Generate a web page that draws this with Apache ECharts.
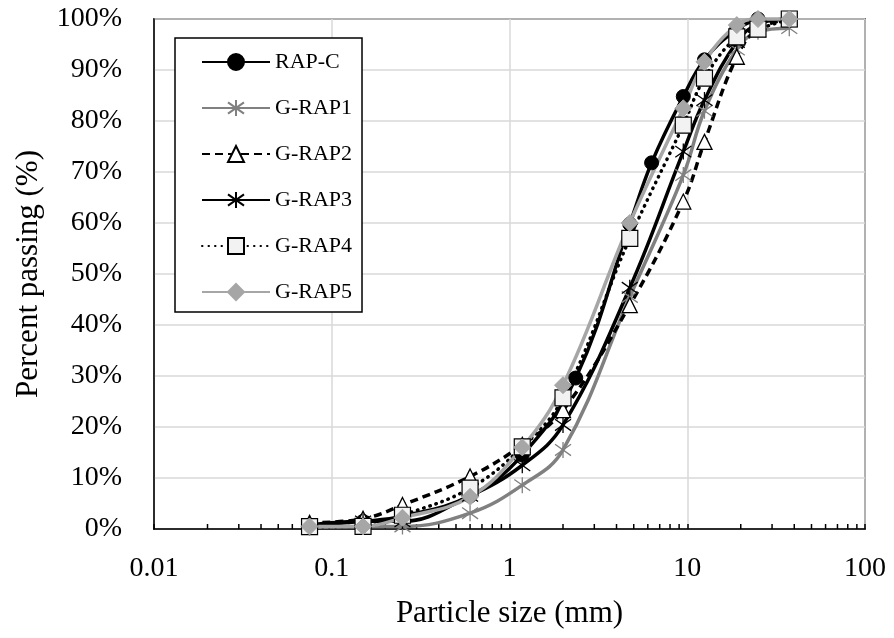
<!DOCTYPE html>
<html>
<head>
<meta charset="utf-8">
<script src="https://cdn.jsdelivr.net/npm/echarts@6/dist/echarts.min.js"></script>
<style>
html,body{margin:0;padding:0;background:#fff;}
#chart{width:894px;height:638px;}
</style>
</head>
<body>
<div id="chart"></div>
<script>
// Sieve sizes (mm)
const sizesRAPC = [0.075, 0.15, 0.25, 0.6, 1.18, 2.36, 4.75, 6.3, 9.5, 12.5, 19, 25];
const sizesGRAP = [0.075, 0.15, 0.25, 0.6, 1.18, 2.0, 4.75, 9.5, 12.5, 19, 25, 37.5];

// Percent passing (%)
const rapC  = [0.7, 1.5, 2.5, 6.5, 14.5, 29.6, 59.8, 71.8, 84.8, 92.0, 98.0, 100];
const gRap1 = [0.3, 0.5, 0.5, 3.1, 8.6, 15.5, 45.5, 69.4, 82.0, 94.0, 97.5, 98.2];
const gRap2 = [1.2, 2.0, 4.7, 10.3, 16.5, 23.3, 43.9, 64.2, 75.9, 92.6, 98.0, 100];
const gRap3 = [0.8, 1.5, 1.5, 6.5, 12.5, 20.4, 47.3, 74.0, 84.1, 95.5, 99.0, 100];
const gRap4 = [0.45, 0.5, 2.7, 8.0, 16.1, 25.7, 57.0, 79.2, 88.4, 96.5, 98.0, 100];
const gRap5 = [0.5, 0.5, 2.2, 6.3, 16.0, 28.2, 60.0, 82.5, 91.6, 98.8, 100, 100];

const seriesNames = ['RAP-C', 'G-RAP1', 'G-RAP2', 'G-RAP3', 'G-RAP4', 'G-RAP5'];
const yTickLabels = ['0%','10%','20%','30%','40%','50%','60%','70%','80%','90%','100%'];
const xTickValues = [0.01, 0.1, 1, 10, 100];
const minorTickValues = [0.02,0.03,0.04,0.05,0.06,0.07,0.08,0.09,
  0.2,0.3,0.4,0.5,0.6,0.7,0.8,0.9, 2,3,4,5,6,7,8,9, 20,30,40,50,60,70,80,90];

function pairs(xs, ys) { return xs.map((x, i) => [x, ys[i]]); }

const FONT = 'Liberation Serif';
const STAR = 'path://M0,-10L0,10M-7.07,-7.07L7.07,7.07M-7.07,7.07L7.07,-7.07';

const chart = echarts.init(document.getElementById('chart'), null, {renderer: 'canvas'});

const common = {type: 'line', smooth: 0.4, clip: false, showAllSymbol: true};

const option = {
  backgroundColor: '#fff',
  animation: false,
  textStyle: {fontFamily: FONT, color: '#000'},
  grid: {left: 154, top: 19, right: 29, bottom: 109, show: true, borderColor: '#000', borderWidth: 1.5, backgroundColor: 'transparent'},
  legend: {
    data: seriesNames,
    orient: 'vertical',
    left: 175, top: 38,
    padding: [13, 10, 9, 26],
    itemWidth: 68, itemHeight: 20, itemGap: 24,
    borderColor: '#000', borderWidth: 1.5,
    backgroundColor: '#fff',
    textStyle: {fontFamily: FONT, fontSize: 22, color: '#000'}
  },
  xAxis: {
    type: 'log', logBase: 10, min: 0.01, max: 100,
    name: 'Particle size (mm)', nameLocation: 'middle', nameGap: 69,
    nameTextStyle: {fontFamily: FONT, fontSize: 31, color: '#000'},
    axisLine: {show: true, lineStyle: {color: '#000', width: 1.5}},
    axisTick: {show: true, inside: true, length: 5, lineStyle: {color: '#000', width: 1.5}},
    axisLabel: {fontFamily: FONT, fontSize: 28, color: '#000', margin: 26,
      formatter: v => { const f = xTickValues.find(t => Math.abs(t - v) / t < 1e-6); return f !== undefined ? String(f) : ''; }},
    splitLine: {show: true, lineStyle: {color: '#d9d9d9', width: 1.5}}
  },
  yAxis: {
    type: 'value', min: 0, max: 100, interval: 10,
    name: 'Percent passing (%)', nameLocation: 'middle', nameGap: 110,
    nameTextStyle: {fontFamily: FONT, fontSize: 31, color: '#000'},
    axisLine: {show: true, lineStyle: {color: '#000', width: 1.5}},
    axisTick: {show: false},
    axisLabel: {fontFamily: FONT, fontSize: 28, color: '#000', margin: 32,
      formatter: v => yTickLabels[Math.round(v / 10)]},
    splitLine: {show: true, lineStyle: {color: '#d9d9d9', width: 1.5}}
  },
  series: [
    {
      type: 'custom', name: 'minorTicks', silent: true, z: 1,
      data: minorTickValues.map(v => [v, 0]),
      encode: {x: 0, y: 1},
      renderItem: (params, api) => {
        const p = api.coord([api.value(0), 0]);
        return {type: 'line', shape: {x1: p[0], y1: p[1], x2: p[0], y2: p[1] - 5},
          style: {stroke: '#000', lineWidth: 1.5}};
      }
    },
    Object.assign({}, common, {
      name: 'RAP-C', data: pairs(sizesRAPC, rapC), z: 3,
      symbol: 'circle', symbolSize: 14,
      lineStyle: {color: '#000', width: 3.5},
      itemStyle: {color: '#000', borderColor: '#000', borderWidth: 1}
    }),
    Object.assign({}, common, {
      name: 'G-RAP1', data: pairs(sizesGRAP, gRap1), z: 3,
      symbol: STAR, symbolSize: 16,
      lineStyle: {color: '#808080', width: 3.5},
      itemStyle: {color: 'rgba(0,0,0,0)', borderColor: '#808080', borderWidth: 1.3}
    }),
    Object.assign({}, common, {
      name: 'G-RAP2', data: pairs(sizesGRAP, gRap2), z: 3,
      symbol: 'triangle', symbolSize: 15,
      lineStyle: {color: '#000', width: 3.5, type: [8, 5]},
      itemStyle: {color: '#fff', borderColor: '#000', borderWidth: 1.3}
    }),
    Object.assign({}, common, {
      name: 'G-RAP3', data: pairs(sizesGRAP, gRap3), z: 3,
      symbol: STAR, symbolSize: 16,
      lineStyle: {color: '#000', width: 3.5},
      itemStyle: {color: 'rgba(0,0,0,0)', borderColor: '#000', borderWidth: 1.3}
    }),
    Object.assign({}, common, {
      name: 'G-RAP4', data: pairs(sizesGRAP, gRap4), z: 3,
      symbol: 'rect', symbolSize: 16,
      lineStyle: {color: '#000', width: 3.5, type: [0.5, 6], cap: 'round'},
      itemStyle: {color: '#f2f2f2', borderColor: '#000', borderWidth: 1.2}
    }),
    Object.assign({}, common, {
      name: 'G-RAP5', data: pairs(sizesGRAP, gRap5), z: 3,
      symbol: 'diamond', symbolSize: 17,
      lineStyle: {color: '#a6a6a6', width: 3.5},
      itemStyle: {color: '#a6a6a6', borderColor: '#a6a6a6', borderWidth: 1}
    })
  ]
};

chart.setOption(option);
</script>
</body>
</html>
